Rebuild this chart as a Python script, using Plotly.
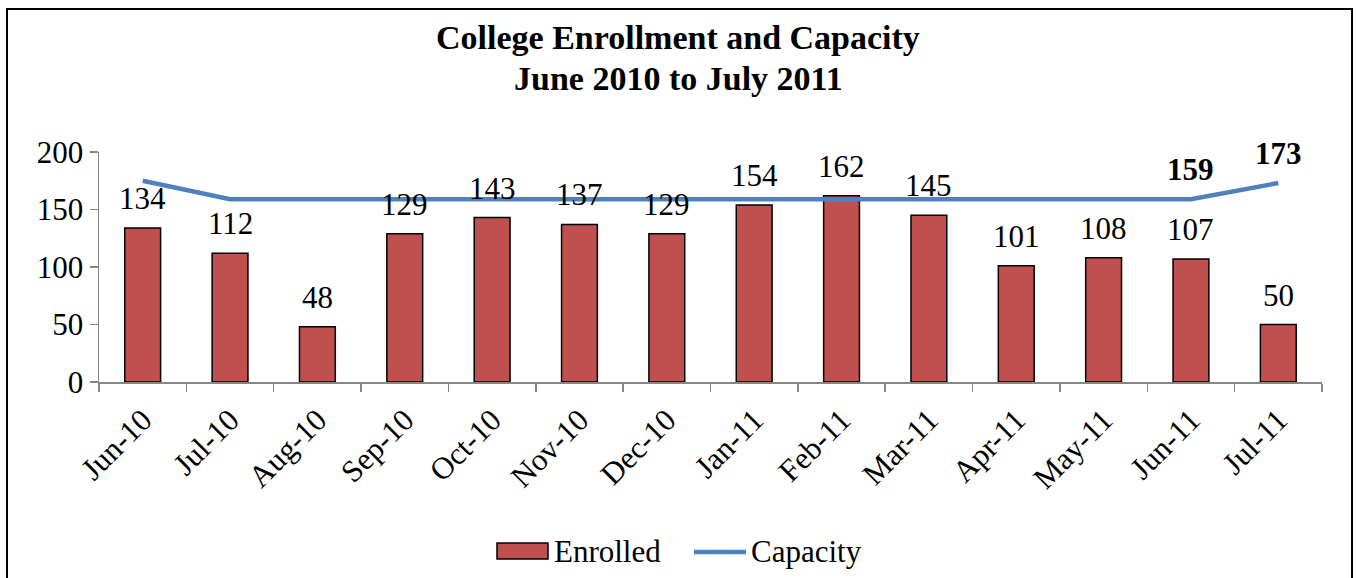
import plotly.graph_objects as go

months = ["Jun-10", "Jul-10", "Aug-10", "Sep-10", "Oct-10", "Nov-10", "Dec-10",
          "Jan-11", "Feb-11", "Mar-11", "Apr-11", "May-11", "Jun-11", "Jul-11"]
enrolled = [134, 112, 48, 129, 143, 137, 129, 154, 162, 145, 101, 108, 107, 50]
capacity = [175, 159, 159, 159, 159, 159, 159, 159, 159, 159, 159, 159, 159, 173]
capacity_labeled = ["Jun-11", "Jul-11"]
title_lines = ["College Enrollment and Capacity", "June 2010 to July 2011"]
series_names = ["Enrolled", "Capacity"]

FONT = "Liberation Serif, Times New Roman, serif"
BAR_COLOR = "#C0504D"
LINE_COLOR = "#4F81BD"
AXIS_GRAY = "#868686"
TXT = 31

fig = go.Figure()
fig.add_trace(go.Bar(
    x=months, y=enrolled, name=series_names[0],
    marker=dict(color=BAR_COLOR, line=dict(color="black", width=1.5)),
))
fig.add_trace(go.Scatter(
    x=months, y=capacity, name=series_names[1], mode="lines",
    line=dict(color=LINE_COLOR, width=4.5),
))

L, R, T, B = 99, 34, 152, 196
W, H = 1356, 578
pw, ph = W - L - R, H - T - B
def px_x(p):
    return (p - L) / pw
def px_y(p):
    return (H - B - p) / ph

annotations = []
for m, v in zip(months, enrolled):
    annotations.append(dict(x=m, y=v, text=str(v), showarrow=False,
                            yanchor="bottom", yshift=10,
                            font=dict(family=FONT, size=TXT, color="black")))
for m, v in zip(months, capacity):
    if m in capacity_labeled:
        annotations.append(dict(x=m, y=v, text="<b>%d</b>" % v, showarrow=False,
                                yanchor="bottom", yshift=10,
                                font=dict(family=FONT, size=TXT, color="black")))
# title
for line, ypx in zip(title_lines, [37, 78]):
    annotations.append(dict(xref="paper", yref="paper", x=px_x(678), y=px_y(ypx),
                            xanchor="center", yanchor="middle", showarrow=False,
                            text="<b>%s</b>" % line,
                            font=dict(family=FONT, size=34, color="black")))
# legend texts
annotations.append(dict(xref="paper", yref="paper", x=px_x(552), y=px_y(551),
                        xanchor="left", yanchor="middle", showarrow=False,
                        text=series_names[0], font=dict(family=FONT, size=TXT, color="black")))
annotations.append(dict(xref="paper", yref="paper", x=px_x(749), y=px_y(551),
                        xanchor="left", yanchor="middle", showarrow=False,
                        text=series_names[1], font=dict(family=FONT, size=TXT, color="black")))

shapes = [
    dict(type="rect", xref="paper", yref="paper",
         x0=px_x(7), x1=px_x(1352), y0=px_y(590), y1=px_y(9),
         line=dict(color="black", width=2), fillcolor="rgba(0,0,0,0)", layer="below"),
    dict(type="rect", xref="paper", yref="paper",
         x0=px_x(497), x1=px_x(548), y0=px_y(559), y1=px_y(543),
         line=dict(color="black", width=1.5), fillcolor=BAR_COLOR),
    dict(type="line", xref="paper", yref="paper",
         x0=px_x(694), x1=px_x(746), y0=px_y(552), y1=px_y(552),
         line=dict(color=LINE_COLOR, width=4.5)),
]

fig.update_layout(
    width=W, height=H,
    margin=dict(l=L, r=R, t=T, b=B, autoexpand=False),
    paper_bgcolor="white", plot_bgcolor="white",
    font=dict(family=FONT, size=TXT, color="black"),
    bargap=0.59,
    showlegend=False,
    hovermode=False,
    xaxis=dict(type="category", showline=True, linecolor=AXIS_GRAY, linewidth=1.5,
               ticks="outside", tickson="boundaries", ticklen=8, tickcolor=AXIS_GRAY,
               tickwidth=1.5, tickangle=-45, showgrid=False, zeroline=False,
               automargin=False, ticklabelstandoff=6,
               tickfont=dict(family=FONT, size=TXT, color="black")),
    yaxis=dict(range=[0, 200], tickvals=[0, 50, 100, 150, 200], showline=True,
               linecolor=AXIS_GRAY, linewidth=1.5, ticks="outside", ticklen=8,
               tickcolor=AXIS_GRAY, tickwidth=1.5, showgrid=False, zeroline=False,
               automargin=False,
               tickfont=dict(family=FONT, size=TXT, color="black")),
    annotations=annotations,
    shapes=shapes,
)

fig.write_html("out.html", config={"displayModeBar": False, "staticPlot": True},
               post_script="document.body.style.margin='0';document.body.style.overflow='hidden';")
